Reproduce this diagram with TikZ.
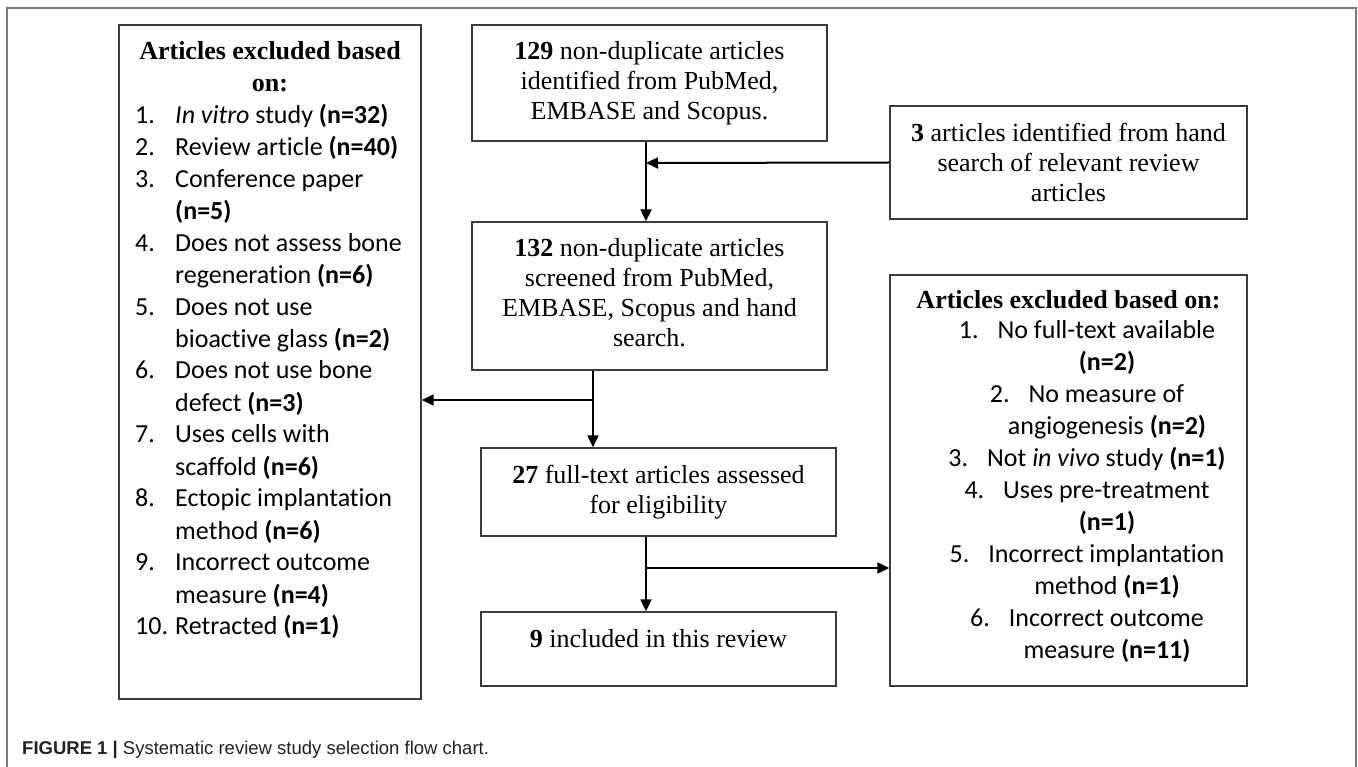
\documentclass[tikz,border=0pt]{standalone}
\usepackage{fontspec}
\setmainfont{Liberation Serif}
\newfontfamily\carl[Ligatures=CommonOff]{Carlito}
\newfontfamily\capsans{Liberation Sans}
\usetikzlibrary{arrows.meta}
\definecolor{boxgray}{HTML}{3A3A3A}
\definecolor{framegray}{HTML}{7A7A7A}
\definecolor{captext}{HTML}{222222}
\newcommand{\tmfont}{\fontsize{26}{30}\selectfont}
\newcommand{\hdfont}{\fontsize{26}{32}\selectfont\bfseries}
\newcommand{\lsfont}{\carl\fontsize{26}{32}\selectfont}
\newcommand{\lnum}[1]{\makebox[40pt][l]{#1}}
\newcommand{\cind}{\hspace*{40pt}}
\begin{document}
\begin{tikzpicture}[x=1pt,y=-1pt,
  box/.style={draw=boxgray, line width=1.3pt, inner sep=0pt, align=center, font=\tmfont},
  flow/.style={line width=2pt, -{Triangle[length=12pt,width=11pt]}},
  txt/.style={inner sep=0pt}]
\useasboundingbox (0,0) rectangle (1358,767);
\fill[white] (0,0) rectangle (1358,767);
% outer frame
\draw[framegray, line width=2pt] (7,767) -- (7,8) -- (1356,8) -- (1356,767);

% boxes
\node[box, minimum width=355pt, minimum height=116pt] (A) at (649.5,83)
  {\textbf{129} non-duplicate articles\\identified from PubMed,\\EMBASE and Scopus.};
\node[box, minimum width=357pt, minimum height=113pt] (B) at (1068.5,162.5)
  {\textbf{3} articles identified from hand\\search of relevant review\\articles};
\node[box, minimum width=355pt, minimum height=148pt] (C) at (649.5,296) {};
\node[txt, font=\tmfont, align=center] (Ct) at (649.5,293)
  {\textbf{132} non-duplicate articles\\screened from PubMed,\\EMBASE, Scopus and hand\\search.};
\node[box, minimum width=355pt, minimum height=88pt] (D) at (658.5,492)
  {\textbf{27} full-text articles assessed\\for eligibility};
\node[box, minimum width=355pt, minimum height=74pt, text height=18pt, text depth=22pt] (E) at (658.5,649)
  {\textbf{9} included in this review};
\node[box, minimum width=302pt, minimum height=674pt] (L) at (270,362) {};
\node[box, minimum width=357pt, minimum height=411pt] (R) at (1068.5,480.5) {};

% left box text
\node[txt, font=\hdfont, align=center, anchor=north] (Lh) at (270,41)
  {Articles excluded based\\on:};
\node[txt, font=\lsfont, align=left, anchor=north west] (Ll) at (135,103.5)
  {\lnum{1.}\textit{In vitro} study \textbf{(n=32)}\\
   \lnum{2.}Review article \textbf{(n=40)}\\
   \lnum{3.}Conference paper\\
   \cind\textbf{(n=5)}\\
   \lnum{4.}Does not assess bone\\
   \cind regeneration \textbf{(n=6)}\\
   \lnum{5.}Does not use\\
   \cind bioactive glass \textbf{(n=2)}\\
   \lnum{6.}Does not use bone\\
   \cind defect \textbf{(n=3)}\\
   \lnum{7.}Uses cells with\\
   \cind scaffold \textbf{(n=6)}\\
   \lnum{8.}Ectopic implantation\\
   \cind method \textbf{(n=6)}\\
   \lnum{9.}Incorrect outcome\\
   \cind measure \textbf{(n=4)}\\
   \lnum{10.}Retracted \textbf{(n=1)}};

% right box text
\node[txt, font=\hdfont, align=center, anchor=north] (Rh) at (1068.5,290)
  {Articles excluded based on:};
\node[txt, font=\lsfont, align=center, anchor=north] (Rl) at (1087,320.5)
  {1.\hspace{19pt}No full-text available\\
   \cind\textbf{(n=2)}\\
   2.\hspace{19pt}No measure of\\
   \cind angiogenesis \textbf{(n=2)}\\
   3.\hspace{19pt}Not \textit{in vivo} study \textbf{(n=1)}\\
   4.\hspace{19pt}Uses pre-treatment\\
   \cind\textbf{(n=1)}\\
   5.\hspace{19pt}Incorrect implantation\\
   \cind method \textbf{(n=1)}\\
   6.\hspace{19pt}Incorrect outcome\\
   \cind measure \textbf{(n=11)}};

% connectors
\coordinate (j1) at (646,163);
\coordinate (j2) at (593,400);
\coordinate (j3) at (646,568);
\draw[flow] (A.south -| j1) -- (C.north -| j1);
\draw[flow] (B.west) -- (j1);
\draw[flow] (C.south -| j2) -- (D.north -| j2);
\draw[flow] (j2) -- (j2 -| L.east);
\draw[flow] (D.south -| j3) -- (E.north -| j3);
\draw[flow] (j3) -- (j3 -| R.west);

% caption
\node[txt, anchor=west, font=\capsans\fontsize{18.5}{22}\selectfont, text=captext] (cap) at (22,750)
  {\textbf{FIGURE 1 |} Systematic review study selection flow chart.};
\end{tikzpicture}
\end{document}
